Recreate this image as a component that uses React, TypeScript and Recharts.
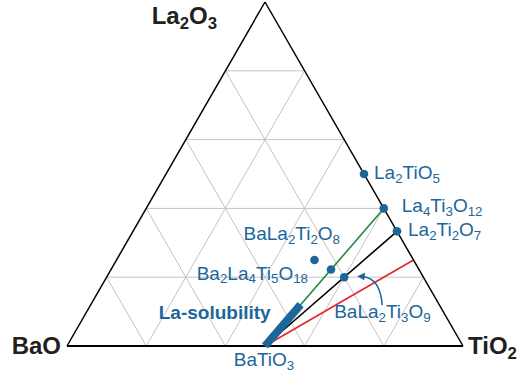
import React from 'react';
import { ScatterChart, Scatter, XAxis, YAxis, ReferenceLine } from 'recharts';

const H = Math.sqrt(3) / 2;
const BLUE = '#1c6699';
const FONT = '"Liberation Sans", Arial, Helvetica, sans-serif';

// compounds, as moles of BaO, TiO2 and La2O3
const phases = ['La2TiO5', 'La4Ti3O12', 'La2Ti2O7', 'BaLa2Ti2O8', 'Ba2La4Ti5O18', 'BaLa2Ti3O9'];
const phaseBaO = [0, 0, 0, 1, 2, 1];
const phaseTiO2 = [1, 3, 2, 2, 5, 3];
const phaseLa2O3 = [1, 2, 1, 1, 2, 1];

// tie lines drawn from BaTiO3
const tieBaO = [0, 0, 0];
const tieTiO2 = [3, 2, 3];
const tieLa2O3 = [2, 1, 1];
const tieColors = ['#1f8a3c', '#000000', '#e8232a'];

// La-solubility limit in BaTiO3 (fraction BaO, TiO2, La2O3)
const solubilityEnd = [0.35, 0.53, 0.12];

const corners = ['BaO', 'TiO2', 'La2O3'];
const gridSteps = [0.2, 0.4, 0.6, 0.8];

// label layout: anchor, dx, dy from the dot
const phaseLabelLayout: [string, number, number][] = [
  ['start', 10, 5],
  ['start', 18, 4],
  ['start', 11, 5],
  ['start', -71, -20],
  ['end', -23, 10],
  ['start', -10, 41],
];
const cornerLabelLayout: [string, number, number][] = [
  ['end', -6, 8],
  ['start', 5, 8],
  ['end', -48, 22],
];

const toXY = (ba: number, ti: number, la: number) => {
  const s = ba + ti + la;
  const b = ti / s;
  const c = la / s;
  return { x: b + c / 2, y: c * H };
};

const batio3 = toXY(1, 1, 0);
const phaseData = phases.map((name, i) => ({ ...toXY(phaseBaO[i], phaseTiO2[i], phaseLa2O3[i]), name, i }));
const cornerData = [toXY(1, 0, 0), toXY(0, 1, 0), toXY(0, 0, 1)].map((p, i) => ({ ...p, name: corners[i], i }));
const solEnd = toXY(solubilityEnd[0], solubilityEnd[1], solubilityEnd[2]);

// grid lines parallel to each side
const gridSegments = gridSteps.flatMap((t) => [
  [toXY(1 - t, 0, t), toXY(0, 1 - t, t)],
  [toXY(1 - t, t, 0), toXY(0, t, 1 - t)],
  [toXY(t, 1 - t, 0), toXY(t, 0, 1 - t)],
]);

function Formula({ x, y, text, size, anchor = 'start', fill = BLUE, bold = false }: any) {
  const parts: string[] = text.match(/[^0-9]+|[0-9]+/g) || [];
  const shift = size * 0.2;
  let down = false;
  return (
    <text x={x} y={y} fontSize={size} fill={fill} textAnchor={anchor} fontFamily={FONT} fontWeight={bold ? 700 : 400}>
      {parts.map((p, k) => {
        const sub = /^[0-9]+$/.test(p);
        let dy = 0;
        if (sub && !down) { dy = shift; down = true; }
        else if (!sub && down) { dy = -shift; down = false; }
        return (
          <tspan key={k} dy={dy} fontSize={sub ? size * 0.7 : size}>{p}</tspan>
        );
      })}
    </text>
  );
}

const PhaseDot = (props: any) => {
  const { cx, cy, payload } = props;
  const [anchor, dx, dy] = phaseLabelLayout[payload.i];
  return (
    <g>
      <circle cx={cx} cy={cy} r={4.3} fill={BLUE} />
      <Formula x={cx + dx} y={cy + dy} text={payload.name} size={19} anchor={anchor} />
    </g>
  );
};

const CornerLabel = (props: any) => {
  const { cx, cy, payload } = props;
  const [anchor, dx, dy] = cornerLabelLayout[payload.i];
  return <Formula x={cx + dx} y={cy + dy} text={payload.name} size={24} anchor={anchor} fill="#231f20" bold />;
};

const BaTiO3Label = (props: any) => (
  <Formula x={props.cx - 1} y={props.cy + 20} text="BaTiO3" size={19} anchor="middle" />
);

const SolubilityLabel = (props: any) => (
  <text x={props.cx - 30} y={props.cy + 14} fontSize={19} fontWeight={700} fill={BLUE} fontFamily={FONT} textAnchor="end">
    La-solubility
  </text>
);

const Arrow = (props: any) => {
  const { cx, cy } = props;
  const tip = [cx + 13, cy - 1];
  return (
    <g>
      <path d={`M ${cx + 38} ${cy + 28} Q ${cx + 36} ${cy + 1} ${cx + 19} ${cy - 0.5}`} fill="none" stroke={BLUE} strokeWidth={1.5} />
      <polygon points={`${tip[0]},${tip[1]} ${tip[0] + 8},${tip[1] - 3.5} ${tip[0] + 7},${tip[1] + 4}`} fill={BLUE} />
    </g>
  );
};

export default function App() {
  return (
    <div style={{ position: 'absolute', left: 0, top: 0, width: 517, height: 376, background: '#fff' }}>
      <ScatterChart width={517} height={376} margin={{ top: 2, right: 54, bottom: 30, left: 67 }}>
        <XAxis type="number" dataKey="x" domain={[0, 1]} hide />
        <YAxis type="number" dataKey="y" domain={[0, H]} hide />
        {gridSegments.map((s, k) => (
          <ReferenceLine key={`g${k}`} segment={s} stroke="#c4c4c4" strokeWidth={1} ifOverflow="visible" />
        ))}
        {tieLa2O3.map((_, k) => (
          <ReferenceLine
            key={`t${k}`}
            segment={[batio3, toXY(tieBaO[k], tieTiO2[k], tieLa2O3[k])]}
            stroke={tieColors[k]}
            strokeWidth={1.6}
            ifOverflow="visible"
          />
        ))}
        <ReferenceLine segment={[cornerData[0], cornerData[1]]} stroke="#000" strokeWidth={1.8} ifOverflow="visible" />
        <ReferenceLine segment={[cornerData[1], cornerData[2]]} stroke="#000" strokeWidth={1.5} ifOverflow="visible" />
        <ReferenceLine segment={[cornerData[2], cornerData[0]]} stroke="#000" strokeWidth={1.5} ifOverflow="visible" />
        <ReferenceLine segment={[batio3, solEnd]} stroke={BLUE} strokeWidth={8} strokeLinecap="butt" ifOverflow="visible" />
        <Scatter data={phaseData} shape={PhaseDot} isAnimationActive={false} />
        <Scatter data={cornerData} shape={CornerLabel} isAnimationActive={false} />
        <Scatter data={[batio3]} shape={BaTiO3Label} isAnimationActive={false} />
        <Scatter data={[solEnd]} shape={SolubilityLabel} isAnimationActive={false} />
        <Scatter data={[phaseData[5]]} shape={Arrow} isAnimationActive={false} />
      </ScatterChart>
    </div>
  );
}
